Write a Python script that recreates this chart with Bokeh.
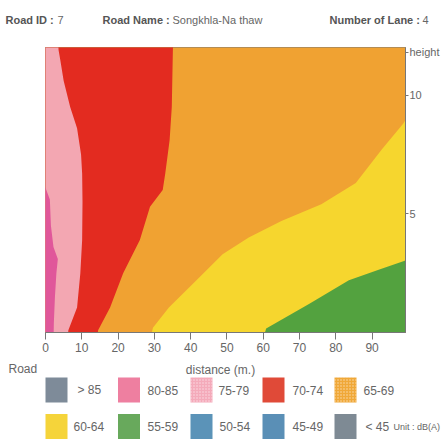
from bokeh.plotting import figure
from bokeh.models import Range1d, FixedTicker
from bokeh.core.properties import value
from bokeh.embed import file_html
from bokeh.resources import INLINE

FONT = "Liberation Sans"
TXT = "#666666"

# ---- header -------------------------------------------------------------
road_id = "7"
road_name = "Songkhla-Na thaw"
lanes = "4"

# ---- axes ---------------------------------------------------------------
distance_ticks = [0, 10, 20, 30, 40, 50, 60, 70, 80, 90]
height_ticks = [5, 10]
DIST_MAX = 99.2
HEIGHT_MAX = 12.0

# ---- noise-level zone boundaries (distance m, height m) -----------------
# 80-85 dB(A) core next to the road
b80_d = [0.0, 1.2, 1.5, 2.2, 3.4, 3.0, 2.6, 2.3, 2.2]
b80_h = [6.1, 5.6, 4.5, 3.6, 3.1, 2.5, 1.5, 0.4, -0.5]
# outer edge of 75-79
b75_d = [6.0, 6.3, 8.7, 9.6, 10.1, 10.2, 10.1, 9.8, 8.7, 6.8, 5.0, 4.1, 3.6, 3.4]
b75_h = [-0.5, 0.1, 1.05, 2.5, 3.9, 5.5, 6.7, 7.5, 8.6, 9.5, 10.6, 11.45, 11.9, 12.5]
# outer edge of 70-74
b70_d = [14.0, 14.5, 17.8, 21.4, 26.0, 28.8, 32.3, 33.0, 34.2, 34.8, 35.1, 35.3]
b70_h = [-0.5, 0.1, 1.05, 2.5, 3.9, 5.3, 6.0, 6.7, 8.1, 9.5, 11.9, 12.5]
# lower edge of 65-69 (top of 60-64)
b65_d = [28.6, 29.6, 34.0, 41.6, 48.8, 56.0, 65.0, 76.0, 85.5, 92.6, 98.6, 101.0]
b65_h = [-0.5, 0.2, 1.05, 2.2, 3.3, 4.0, 4.7, 5.4, 6.3, 7.7, 8.8, 9.4]
# lower edge of 60-64 (top of 55-59)
b60_d = [59.5, 60.8, 72.6, 83.6, 92.0, 98.6, 101.0]
b60_h = [-0.5, 0.17, 1.2, 2.2, 2.65, 3.0, 3.15]

# ---- legend -------------------------------------------------------------
legend_labels = ["> 85", "80-85", "75-79", "70-74", "65-69",
                 "60-64", "55-59", "50-54", "45-49", "< 45"]
legend_colors = ["#7E8B99", "#EE7FA0", "#F4AABA", "#E04A38", "#F0A838",
                 "#F5D43A", "#68A95C", "#5B93B8", "#5A8FB6", "#7E8A94"]
legend_dotted = [False, False, True, False, True,
                 False, False, False, False, False]
unit_text = "Unit : dB(A)"

C_ORANGE = "#F0A232"
C_YELLOW = "#F6D62E"
C_GREEN = "#53A23F"
C_RED = "#E32B20"
C_PINK = "#F3A7B2"
C_MAGENTA = "#E0579A"

W = 442


def blank(h):
    # pixel-space canvas: x to the right, y downward
    f = figure(width=W, height=h, x_range=Range1d(0, W), y_range=Range1d(h, 0),
               output_backend="svg", toolbar_location=None,
               x_axis_location=None, y_axis_location=None,
               min_border=0, outline_line_color=None)
    f.grid.visible = False
    f.background_fill_color = "white"
    f.border_fill_color = "white"
    return f


# ---- header strip -------------------------------------------------------
head = blank(40)
head_keys = ["Road ID :", "Road Name :", "Number of Lane :"]
head_vals = [road_id, road_name, lanes]
head_kx = [5, 102, 329]
head_vx = [57, 172, 422]
head.text(x=head_kx, y=[19] * 3, text=head_keys, text_font=value(FONT),
          text_font_style="bold", text_font_size="11px", text_color="#555555",
          text_baseline="middle")
head.text(x=head_vx, y=[19] * 3, text=head_vals, text_font=value(FONT),
          text_font_size="11px", text_color=TXT, text_baseline="middle")

# ---- cross-section of noise levels --------------------------------------
p = figure(width=W, height=320, x_range=Range1d(0, DIST_MAX),
           y_range=Range1d(0, HEIGHT_MAX), output_backend="svg",
           toolbar_location=None, y_axis_location="right",
           min_border_left=45, min_border_right=35, min_border_top=7,
           min_border_bottom=28)
p.grid.visible = False
p.outline_line_color = "#777777"
p.background_fill_color = C_ORANGE
p.border_fill_color = "white"

lo, hi, far = -1.0, HEIGHT_MAX + 1.0, DIST_MAX + 2.0
# 65-69 fills the whole section; the other bands are painted over it
p.patch([lo, far, far, lo], [lo, lo, hi, hi], fill_color=C_ORANGE, line_color=None)
p.patch(b65_d + [far, b65_d[0]], b65_h + [lo, lo], fill_color=C_YELLOW, line_color=None)
p.patch(b60_d + [far, b60_d[0]], b60_h + [lo, lo], fill_color=C_GREEN, line_color=None)
p.patch([lo] + b70_d + [lo], [b70_h[0]] + b70_h + [b70_h[-1]], fill_color=C_RED, line_color=None)
p.patch([lo] + b75_d + [lo], [b75_h[0]] + b75_h + [b75_h[-1]], fill_color=C_PINK, line_color=None)
p.patch([lo] + b80_d + [lo], [b80_h[0]] + b80_h + [b80_h[-1]], fill_color=C_MAGENTA, line_color=None)

xa = p.xaxis[0]
xa.ticker = FixedTicker(ticks=distance_ticks)
xa.axis_line_color = "#777777"
xa.major_tick_line_color = "#777777"
xa.major_tick_out = 7
xa.major_tick_in = 0
xa.minor_tick_line_color = None
xa.major_label_standoff = 3
xa.major_label_text_font = FONT
xa.major_label_text_font_size = "12px"
xa.major_label_text_color = TXT

# right axis: heights, with the axis name written beside its top end
ya = p.yaxis[0]
name_at = 11.8
ya.ticker = FixedTicker(ticks=height_ticks + [name_at])
ya.major_label_overrides = {name_at: "height"}
ya.axis_line_color = "#777777"
ya.major_tick_line_color = "#777777"
ya.major_tick_out = 3
ya.major_tick_in = 0
ya.minor_tick_line_color = None
ya.major_label_standoff = 1
ya.major_label_text_font = FONT
ya.major_label_text_font_size = "11px"
ya.major_label_text_color = TXT

# ---- legend strip -------------------------------------------------------
leg = blank(81)
leg.text(x=[8], y=[8], text=["Road"], text_font=value(FONT), text_font_size="12px",
         text_color=TXT, text_baseline="middle")
leg.text(x=[220], y=[9], text=["distance (m.)"], text_font=value(FONT),
         text_font_size="12px", text_color=TXT, text_baseline="middle", text_align="center")

sq_x = [56, 128.5, 201, 273, 345] * 2
sq_y = [29.5] * 5 + [66] * 5
lab_x = [77, 147, 218, 292, 363, 73, 147, 219, 292, 365]
plain = [i for i in range(10) if not legend_dotted[i]]
dotted = [i for i in range(10) if legend_dotted[i]]
leg.rect(x=[sq_x[i] for i in plain], y=[sq_y[i] for i in plain], width=22, height=25,
         fill_color=[legend_colors[i] for i in plain], line_color=None)
leg.rect(x=[sq_x[i] for i in dotted], y=[sq_y[i] for i in dotted], width=22, height=25,
         fill_color=[legend_colors[i] for i in dotted], line_color=None,
         hatch_pattern="dot", hatch_color="white", hatch_alpha=0.6, hatch_scale=3)
leg.text(x=lab_x, y=sq_y, text=legend_labels, text_font=value(FONT),
         text_font_size="12px", text_color=TXT, text_baseline="middle")
leg.text(x=[393], y=[66], text=[unit_text], text_font=value(FONT),
         text_font_size="9px", text_color=TXT, text_baseline="middle")

open("out.html", "w").write(file_html([head, p, leg], INLINE))
